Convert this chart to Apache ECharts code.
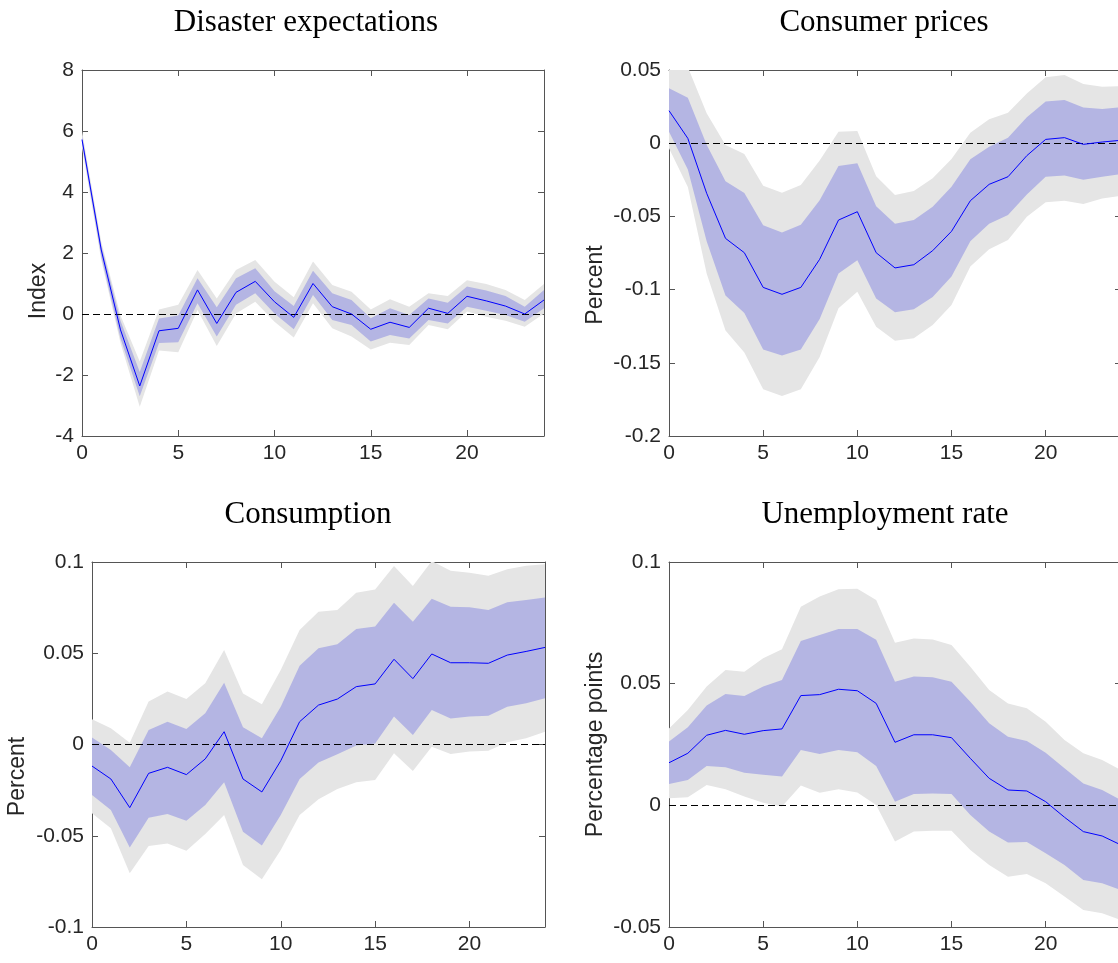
<!DOCTYPE html>
<html>
<head>
<meta charset="utf-8">
<script src="https://cdn.jsdelivr.net/npm/echarts@6.0.0/dist/echarts.min.js"></script>
<style>
  html, body { margin: 0; padding: 0; background: #fff; }
  #chart { width: 1118px; height: 963px; }
</style>
</head>
<body>
<div id="chart"></div>
<script>
const horizons = [0, 1, 2, 3, 4, 5, 6, 7, 8, 9, 10, 11, 12, 13, 14, 15, 16, 17, 18, 19, 20, 21, 22, 23, 24]

// Disaster expectations (index)
const disasterMed = [5.72, 2.1, -0.52, -2.36, -0.55, -0.47, 0.79, -0.31, 0.71, 1.07, 0.4, -0.11, 1.0, 0.24, 0.0, -0.5, -0.27, -0.44, 0.19, 0.02, 0.58, 0.43, 0.26, 0.0, 0.46]
const disasterLo68 = [5.6, 1.88, -0.8, -2.7, -0.95, -0.93, 0.35, -0.74, 0.3, 0.68, 0.02, -0.5, 0.62, -0.2, -0.36, -0.9, -0.69, -0.8, -0.2, -0.31, 0.24, 0.11, -0.03, -0.25, 0.19]
const disasterHi68 = [5.85, 2.26, -0.22, -1.9, -0.15, -0.05, 1.17, 0.22, 1.17, 1.5, 0.75, 0.26, 1.42, 0.68, 0.46, -0.14, 0.19, -0.03, 0.51, 0.37, 0.9, 0.77, 0.59, 0.24, 0.79]
const disasterLo90 = [5.45, 1.77, -0.95, -3.04, -1.2, -1.25, 0.13, -1.05, 0.02, 0.4, -0.25, -0.77, 0.35, -0.47, -0.74, -1.16, -0.94, -1.02, -0.36, -0.5, 0.08, -0.09, -0.22, -0.42, 0.02]
const disasterHi90 = [6.0, 2.37, -0.05, -1.56, 0.15, 0.3, 1.44, 0.51, 1.44, 1.77, 1.06, 0.55, 1.72, 0.95, 0.73, 0.15, 0.48, 0.24, 0.68, 0.59, 1.11, 0.98, 0.79, 0.46, 0.98]

// Consumer prices (percent)
const pricesMed = [0.0222, 0.0033, -0.0342, -0.065, -0.0748, -0.0985, -0.1032, -0.0985, -0.0793, -0.0525, -0.0468, -0.0748, -0.0852, -0.083, -0.0734, -0.0602, -0.0393, -0.0281, -0.0229, -0.0085, 0.0026, 0.0038, -0.0008, 0.0008, 0.002]
const pricesLo68 = [0.0079, -0.018, -0.067, -0.104, -0.116, -0.141, -0.145, -0.141, -0.12, -0.089, -0.08, -0.106, -0.1155, -0.1135, -0.105, -0.091, -0.067, -0.055, -0.049, -0.035, -0.023, -0.022, -0.025, -0.023, -0.021]
const pricesHi68 = [0.0375, 0.031, -0.001, -0.026, -0.034, -0.056, -0.061, -0.0557, -0.039, -0.0156, -0.0137, -0.043, -0.055, -0.0525, -0.0434, -0.0297, -0.011, -0.0024, 0.0038, 0.0177, 0.0284, 0.0295, 0.0243, 0.0234, 0.0245]
const pricesLo90 = [-0.0035, -0.03, -0.089, -0.128, -0.143, -0.168, -0.1727, -0.168, -0.146, -0.1128, -0.1014, -0.1253, -0.135, -0.1333, -0.1242, -0.1105, -0.0843, -0.0725, -0.0661, -0.0502, -0.0404, -0.0393, -0.0416, -0.0377, -0.036]
const pricesHi90 = [0.052, 0.052, 0.0204, -0.0012, -0.0074, -0.029, -0.0338, -0.0286, -0.0119, 0.0079, 0.0083, -0.0225, -0.0354, -0.0326, -0.024, -0.0108, 0.0072, 0.0163, 0.0208, 0.034, 0.045, 0.0466, 0.0404, 0.0386, 0.039]

// Consumption (percent)
const consMed = [-0.0118, -0.0189, -0.0346, -0.0158, -0.0125, -0.0165, -0.0079, 0.007, -0.0189, -0.026, -0.0089, 0.0125, 0.0216, 0.0249, 0.0317, 0.0332, 0.0467, 0.0361, 0.0496, 0.0448, 0.0448, 0.0445, 0.049, 0.051, 0.0532]
const consLo68 = [-0.0277, -0.0359, -0.0565, -0.0401, -0.0381, -0.0418, -0.0332, -0.0207, -0.0478, -0.0553, -0.0386, -0.0189, -0.0098, -0.0054, -0.0006, 0.0006, 0.0153, 0.0052, 0.0189, 0.0143, 0.0153, 0.0158, 0.0207, 0.0226, 0.0253]
const consHi68 = [0.0039, -0.003, -0.0125, 0.0079, 0.0125, 0.0085, 0.0171, 0.0339, 0.0094, 0.0034, 0.0207, 0.0432, 0.0527, 0.0549, 0.0633, 0.0646, 0.0777, 0.0673, 0.0799, 0.0755, 0.0752, 0.0737, 0.0779, 0.0792, 0.0806]
const consLo90 = [-0.0377, -0.0459, -0.0706, -0.0556, -0.0542, -0.0582, -0.049, -0.0386, -0.066, -0.0739, -0.0578, -0.0386, -0.03, -0.0244, -0.0207, -0.0195, -0.0048, -0.0145, -0.0012, -0.0052, -0.0039, -0.0034, 0.0012, 0.0034, 0.007]
const consHi90 = [0.0138, 0.0089, 0.001, 0.0235, 0.029, 0.0249, 0.0335, 0.0518, 0.028, 0.022, 0.0408, 0.0627, 0.0728, 0.0737, 0.0832, 0.085, 0.0978, 0.0869, 0.1005, 0.0952, 0.0941, 0.0925, 0.096, 0.098, 0.0987]

// Unemployment rate (percentage points)
const unempMed = [0.0175, 0.0214, 0.0288, 0.0308, 0.0292, 0.0307, 0.0314, 0.0451, 0.0455, 0.0477, 0.0471, 0.0419, 0.0259, 0.029, 0.029, 0.0278, 0.0193, 0.0111, 0.0063, 0.0059, 0.0015, -0.0049, -0.0108, -0.0126, -0.0163]
const unempLo68 = [0.0088, 0.0104, 0.0162, 0.0156, 0.0134, 0.0126, 0.0118, 0.0227, 0.0211, 0.0227, 0.0218, 0.0162, 0.0015, 0.0047, 0.0049, 0.0047, -0.004, -0.0108, -0.0153, -0.0151, -0.0197, -0.0245, -0.0307, -0.032, -0.0348]
const unempHi68 = [0.0262, 0.0321, 0.041, 0.0458, 0.0449, 0.0488, 0.0515, 0.0675, 0.07, 0.0725, 0.0725, 0.068, 0.0508, 0.0529, 0.0526, 0.0508, 0.0426, 0.0337, 0.0282, 0.0264, 0.0216, 0.0152, 0.009, 0.0063, 0.0022]
const unempLo90 = [0.0029, 0.0033, 0.0084, 0.0066, 0.0036, 0.0011, -0.0005, 0.0082, 0.0052, 0.0066, 0.0053, 0.0001, -0.0149, -0.0108, -0.0104, -0.0104, -0.0184, -0.0245, -0.0293, -0.0282, -0.032, -0.0375, -0.043, -0.0444, -0.0471]
const unempHi90 = [0.0316, 0.0392, 0.0488, 0.0556, 0.0549, 0.0604, 0.0641, 0.0816, 0.0858, 0.0888, 0.089, 0.0844, 0.0668, 0.0686, 0.0682, 0.0659, 0.057, 0.0474, 0.0419, 0.0399, 0.0344, 0.0268, 0.0214, 0.0186, 0.0145]

const textColor = '#262626'
const axisColor = '#555'
const sansFont = 'Liberation Sans'
const serifFont = 'Liberation Serif'

const panels = [
  {
    title: 'Disaster expectations', yName: 'Index', min: -4, max: 8, interval: 2,
    med: disasterMed, lo68: disasterLo68, hi68: disasterHi68, lo90: disasterLo90, hi90: disasterHi90,
    grid: { left: 82, top: 70, width: 462, height: 366 }, titleX: 301, titleY: 2, nameGap: 32, nameShift: 38
  },
  {
    title: 'Consumer prices', yName: 'Percent', min: -0.2, max: 0.05, interval: 0.05,
    med: pricesMed, lo68: pricesLo68, hi68: pricesHi68, lo90: pricesLo90, hi90: pricesHi90,
    grid: { left: 669, top: 70, width: 452, height: 366 }, titleX: 879, titleY: 2, nameGap: 62, nameShift: 32
  },
  {
    title: 'Consumption', yName: 'Percent', min: -0.1, max: 0.1, interval: 0.05,
    med: consMed, lo68: consLo68, hi68: consHi68, lo90: consLo90, hi90: consHi90,
    grid: { left: 92, top: 562, width: 453, height: 365 }, titleX: 303, titleY: 494, nameGap: 63, nameShift: 32
  },
  {
    title: 'Unemployment rate', yName: 'Percentage points', min: -0.05, max: 0.1, interval: 0.05,
    med: unempMed, lo68: unempLo68, hi68: unempHi68, lo90: unempLo90, hi90: unempHi90,
    grid: { left: 669, top: 562, width: 452, height: 365 }, titleX: 880, titleY: 494, nameGap: 62, nameShift: 0
  }
]

function pairs(values) {
  return horizons.map((h, i) => [h, values[i]])
}

function bandRows(lo, hi) {
  return horizons.map((h, i) => [h, lo[i], hi[i]])
}

// one polygon per band: upper edge left to right, lower edge back
function renderBand(color) {
  return function (params, api) {
    if (params.dataIndexInside !== 0) return null
    const n = params.dataInsideLength
    const upper = []
    const lower = []
    for (let j = 0; j < n; j++) {
      upper.push(api.coord([api.value(0, j), api.value(2, j)]))
      lower.unshift(api.coord([api.value(0, j), api.value(1, j)]))
    }
    return {
      type: 'polygon',
      shape: { points: upper.concat(lower) },
      style: { fill: color, stroke: null },
      silent: true
    }
  }
}

function axisBase(i) {
  return {
    type: 'value',
    gridIndex: i,
    axisLine: { show: true, onZero: false, lineStyle: { color: axisColor, width: 1 } },
    axisTick: { show: true, inside: true, length: 6, lineStyle: { color: axisColor, width: 1 } },
    splitLine: { show: false }
  }
}

const grids = []
const xAxes = []
const yAxes = []
const titles = []
const series = []

panels.forEach((p, i) => {
  grids.push({ ...p.grid, show: false, containLabel: false, outerBoundsMode: 'none' })

  titles.push({
    text: p.title,
    left: p.titleX,
    top: p.titleY,
    textAlign: 'center',
    textStyle: { fontFamily: serifFont, fontSize: 31, fontWeight: 'normal', color: '#000' }
  })

  const xRange = { min: 0, max: 24, interval: 5 }
  xAxes.push({
    ...axisBase(i), ...xRange, position: 'bottom',
    axisLabel: { color: textColor, fontFamily: sansFont, fontSize: 21, margin: 7, showMaxLabel: false }
  })
  xAxes.push({ ...axisBase(i), ...xRange, position: 'top', axisLabel: { show: false } })

  const yRange = { min: p.min, max: p.max, interval: p.interval }
  yAxes.push({
    ...axisBase(i), ...yRange, position: 'left',
    name: p.yName,
    nameLocation: 'middle',
    nameGap: p.nameGap,
    nameTextStyle: {
      color: textColor, fontFamily: sansFont, fontSize: 23,
      padding: [0, p.nameShift * 2, 0, 0]
    },
    axisLabel: { color: textColor, fontFamily: sansFont, fontSize: 21, margin: 8 }
  })
  yAxes.push({ ...axisBase(i), ...yRange, position: 'right', axisLabel: { show: false } })

  const axes = { xAxisIndex: i * 2, yAxisIndex: i * 2 }

  series.push({
    ...axes, type: 'custom', clip: true, silent: true, z: 1,
    encode: { x: 0, y: [1, 2] },
    renderItem: renderBand('#e5e5e5'),
    data: bandRows(p.lo90, p.hi90)
  })
  series.push({
    ...axes, type: 'custom', clip: true, silent: true, z: 2,
    encode: { x: 0, y: [1, 2] },
    renderItem: renderBand('#b4b5e3'),
    data: bandRows(p.lo68, p.hi68)
  })

  series.push({
    ...axes,
    type: 'line',
    symbol: 'none',
    silent: true,
    z: 6,
    lineStyle: { color: '#0000ff', width: 1 },
    data: pairs(p.med),
    markLine: {
      silent: true,
      symbol: 'none',
      z: 4,
      label: { show: false },
      lineStyle: { color: '#000', type: [7, 4], width: 1 },
      data: [{ yAxis: 0 }]
    }
  })
})

const chart = echarts.init(document.getElementById('chart'))
chart.setOption({
  animation: false,
  backgroundColor: '#fff',
  title: titles,
  grid: grids,
  xAxis: xAxes,
  yAxis: yAxes,
  series: series
})
</script>
</body>
</html>
